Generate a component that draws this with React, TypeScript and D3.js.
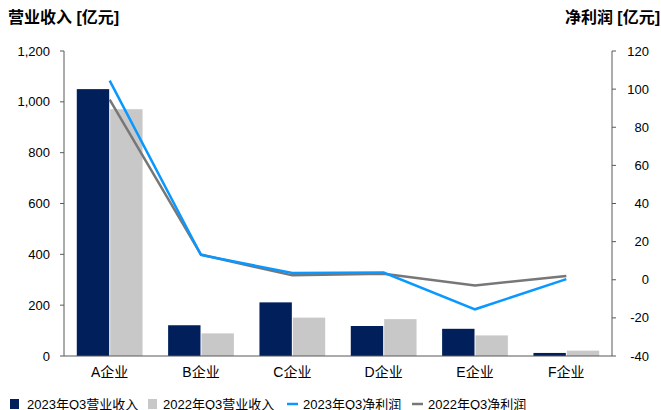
import React from "react";
import * as d3 from "d3";

const categories = ["A企业", "B企业", "C企业", "D企业", "E企业", "F企业"];
const revenue2023 = [1050, 121, 211, 118, 107, 12];
const revenue2022 = [971, 89, 151, 145, 81, 21];
const profit2023 = [104.5, 13, 3.5, 3.8, -15.5, 0.3];
const profit2022 = [94.5, 13.2, 2.3, 3.2, -3, 2];
const leftTicks = [0, 200, 400, 600, 800, 1000, 1200];
const rightTicks = [-40, -20, 0, 20, 40, 60, 80, 100, 120];
const seriesNames = ["2023年Q3营业收入", "2022年Q3营业收入", "2023年Q3净利润", "2022年Q3净利润"];

const W = 661, H = 410;
const M = { left: 64, right: 612, top: 51, bottom: 356 };
const C = { dark: "#001F5B", light: "#C8C8C8", blue: "#0A98FF", gray: "#777777", axis: "#595959" };
const FONT = "'Liberation Sans', Arial, 'Noto Sans CJK SC', sans-serif";

export default function App() {
  const x = d3.scaleBand().domain(categories).range([M.left, M.right]).paddingInner(0.28).paddingOuter(0.14);
  const yL = d3.scaleLinear().domain([0, 1200]).range([M.bottom, M.top]);
  const yR = d3.scaleLinear().domain([-40, 120]).range([M.bottom, M.top]);
  const bw = x.bandwidth() / 2;
  const fmt = d3.format(",");
  const line = d3.line<number>().x((_, i) => (x(categories[i]) as number) + x.bandwidth() / 2);
  const l23 = line.y((d) => yR(d))(profit2023) as string;
  const l22 = line.y((d) => yR(d))(profit2022) as string;

  return (
    <svg width={W} height={H} style={{ position: "absolute", left: 0, top: 0, fontFamily: FONT }}>
      <text x={8} y={23} fontSize={16} fontWeight="bold" fill="#000">营业收入 [亿元]</text>
      <text x={660} y={23} fontSize={16} fontWeight="bold" fill="#000" textAnchor="end">净利润 [亿元]</text>

      {categories.map((c, i) => (
        <g key={c}>
          <rect x={x(c)} y={yL(revenue2023[i])} width={bw - 0.5} height={yL(0) - yL(revenue2023[i])} fill={C.dark} />
          <rect x={(x(c) as number) + bw + 0.5} y={yL(revenue2022[i])} width={bw - 0.5} height={yL(0) - yL(revenue2022[i])} fill={C.light} />
        </g>
      ))}

      <path d={l22} fill="none" stroke={C.gray} strokeWidth={2.5} />
      <path d={l23} fill="none" stroke={C.blue} strokeWidth={2.5} />

      {/* left axis */}
      <line x1={M.left} x2={M.left} y1={M.top} y2={M.bottom} stroke={C.axis} strokeWidth={1} />
      {leftTicks.map((t) => (
        <g key={t}>
          <line x1={M.left - 4} x2={M.left} y1={yL(t)} y2={yL(t)} stroke={C.axis} />
          <text x={50} y={yL(t)} dy="0.35em" textAnchor="end" fontSize={13} fill="#000">{fmt(t)}</text>
        </g>
      ))}
      {/* right axis */}
      <line x1={M.right} x2={M.right} y1={M.top} y2={M.bottom} stroke={C.axis} strokeWidth={1} />
      {rightTicks.map((t) => (
        <g key={t}>
          <line x1={M.right} x2={M.right + 4} y1={yR(t)} y2={yR(t)} stroke={C.axis} />
          <text x={649} y={yR(t)} dy="0.35em" textAnchor="end" fontSize={13} fill="#000">{t}</text>
        </g>
      ))}
      {/* bottom axis */}
      <line x1={M.left} x2={M.right} y1={M.bottom} y2={M.bottom} stroke={C.axis} strokeWidth={1.2} />
      {categories.map((c) => (
        <text key={c} x={(x(c) as number) + x.bandwidth() / 2} y={377} textAnchor="middle" fontSize={14} fill="#000">{c}</text>
      ))}

      {/* legend */}
      <rect x={10} y={399} width={9} height={10} fill={C.dark} />
      <text x={27} y={408.5} fontSize={13} fill="#000">{seriesNames[0]}</text>
      <rect x={148} y={399} width={9} height={10} fill={C.light} />
      <text x={163} y={408.5} fontSize={13} fill="#000">{seriesNames[1]}</text>
      <line x1={287} x2={298} y1={404} y2={404} stroke={C.blue} strokeWidth={2.5} />
      <text x={303} y={408.5} fontSize={13} fill="#000">{seriesNames[2]}</text>
      <line x1={412} x2={423} y1={404} y2={404} stroke={C.gray} strokeWidth={2.5} />
      <text x={428} y={408.5} fontSize={13} fill="#000">{seriesNames[3]}</text>
    </svg>
  );
}
